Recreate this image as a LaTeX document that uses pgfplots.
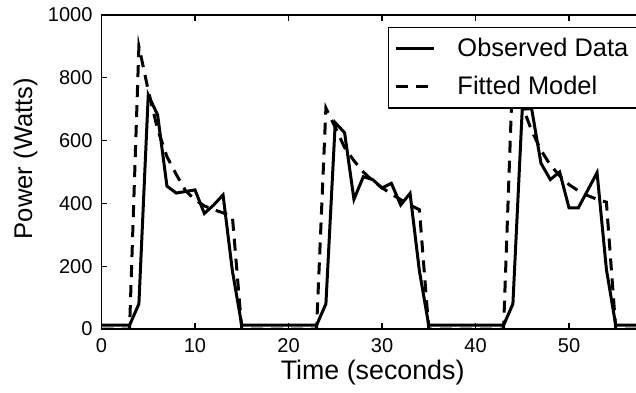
\documentclass[border=0pt]{standalone}
\usepackage{pgfplots}
\usepackage{pgfplotstable}
\pgfplotsset{compat=1.18}
\usepackage{fontspec}
\setmainfont{Liberation Sans}

\pgfplotstableread{
t obs fit
0 12 0
1 12 0
2 12 0
3 12 0
4 80 900
5 745 760
6 682 636
7 455 549
8 433 492
9 438 440
10 443 412
11 368 392
12 395 380
13 427 370
14 185 358
15 12 0
16 12 0
17 12 0
18 12 0
19 12 0
20 12 0
21 12 0
22 12 0
23 12 0
24 80 704
25 657 642
26 625 578
27 413 536
28 485 500
29 476 472
30 449 450
31 464 430
32 395 412
33 432 395
34 185 380
35 12 0
36 12 0
37 12 0
38 12 0
39 12 0
40 12 0
41 12 0
42 12 0
43 12 0
44 80 840
45 700 712
46 702 632
47 528 570
48 476 522
49 500 488
50 386 460
51 386 440
52 442 425
53 498 413
54 190 404
55 12 0
56 12 0
57 12 0
58 12 0
}\datatable

\begin{document}
\begin{tikzpicture}
\begin{axis}[
 scale only axis, width=271.15pt, height=157pt,
 xmin=0, xmax=58, ymin=0, ymax=1000,
 xtick={0,10,...,50}, ytick={0,200,...,1000},
 tick align=inside, major tick length=3pt,
 tick style={black, line width=0.6pt},
 axis line style={line width=0.8pt},
 ticklabel style={font=\fontsize{10}{11}\selectfont},
 /pgf/number format/assume math mode=true,
 /pgf/number format/1000 sep={},
 yticklabel style={xshift=-1pt},
 xticklabel style={yshift=-1pt},
 xlabel={Time (seconds)}, ylabel={Power (Watts)},
 xlabel style={font=\fontsize{13.4}{15}\selectfont, at={(axis description cs:0.5,-0.14)}, anchor=center},
 ylabel style={font=\fontsize{12.8}{14}\selectfont, at={(axis description cs:-0.140,0.543)}, anchor=center},
 legend style={at={(0.991,0.963)}, anchor=north east, font=\fontsize{12.7}{14}\selectfont,
   draw=black, line width=0.6pt, inner xsep=3pt, inner ysep=3.5pt, row sep=4pt,
   /tikz/every odd column/.append style={column sep=9pt}},
 legend cell align=left,
 legend image code/.code={\draw[#1] (0pt,0pt) -- (19pt,0pt);},
]
\addplot[black, line width=1.5pt] table[x=t,y=obs]{\datatable};
\addplot[black, line width=1.5pt, dash pattern=on 6pt off 4pt] table[x=t,y=fit]{\datatable};
\legend{Observed Data, Fitted Model}
\end{axis}
\pgfresetboundingbox
\useasboundingbox ([shift={(-50.75pt,-31.5pt)}]current axis.south west) rectangle ([shift={(-3.9pt,7.5pt)}]current axis.north east);
\end{tikzpicture}
\end{document}
